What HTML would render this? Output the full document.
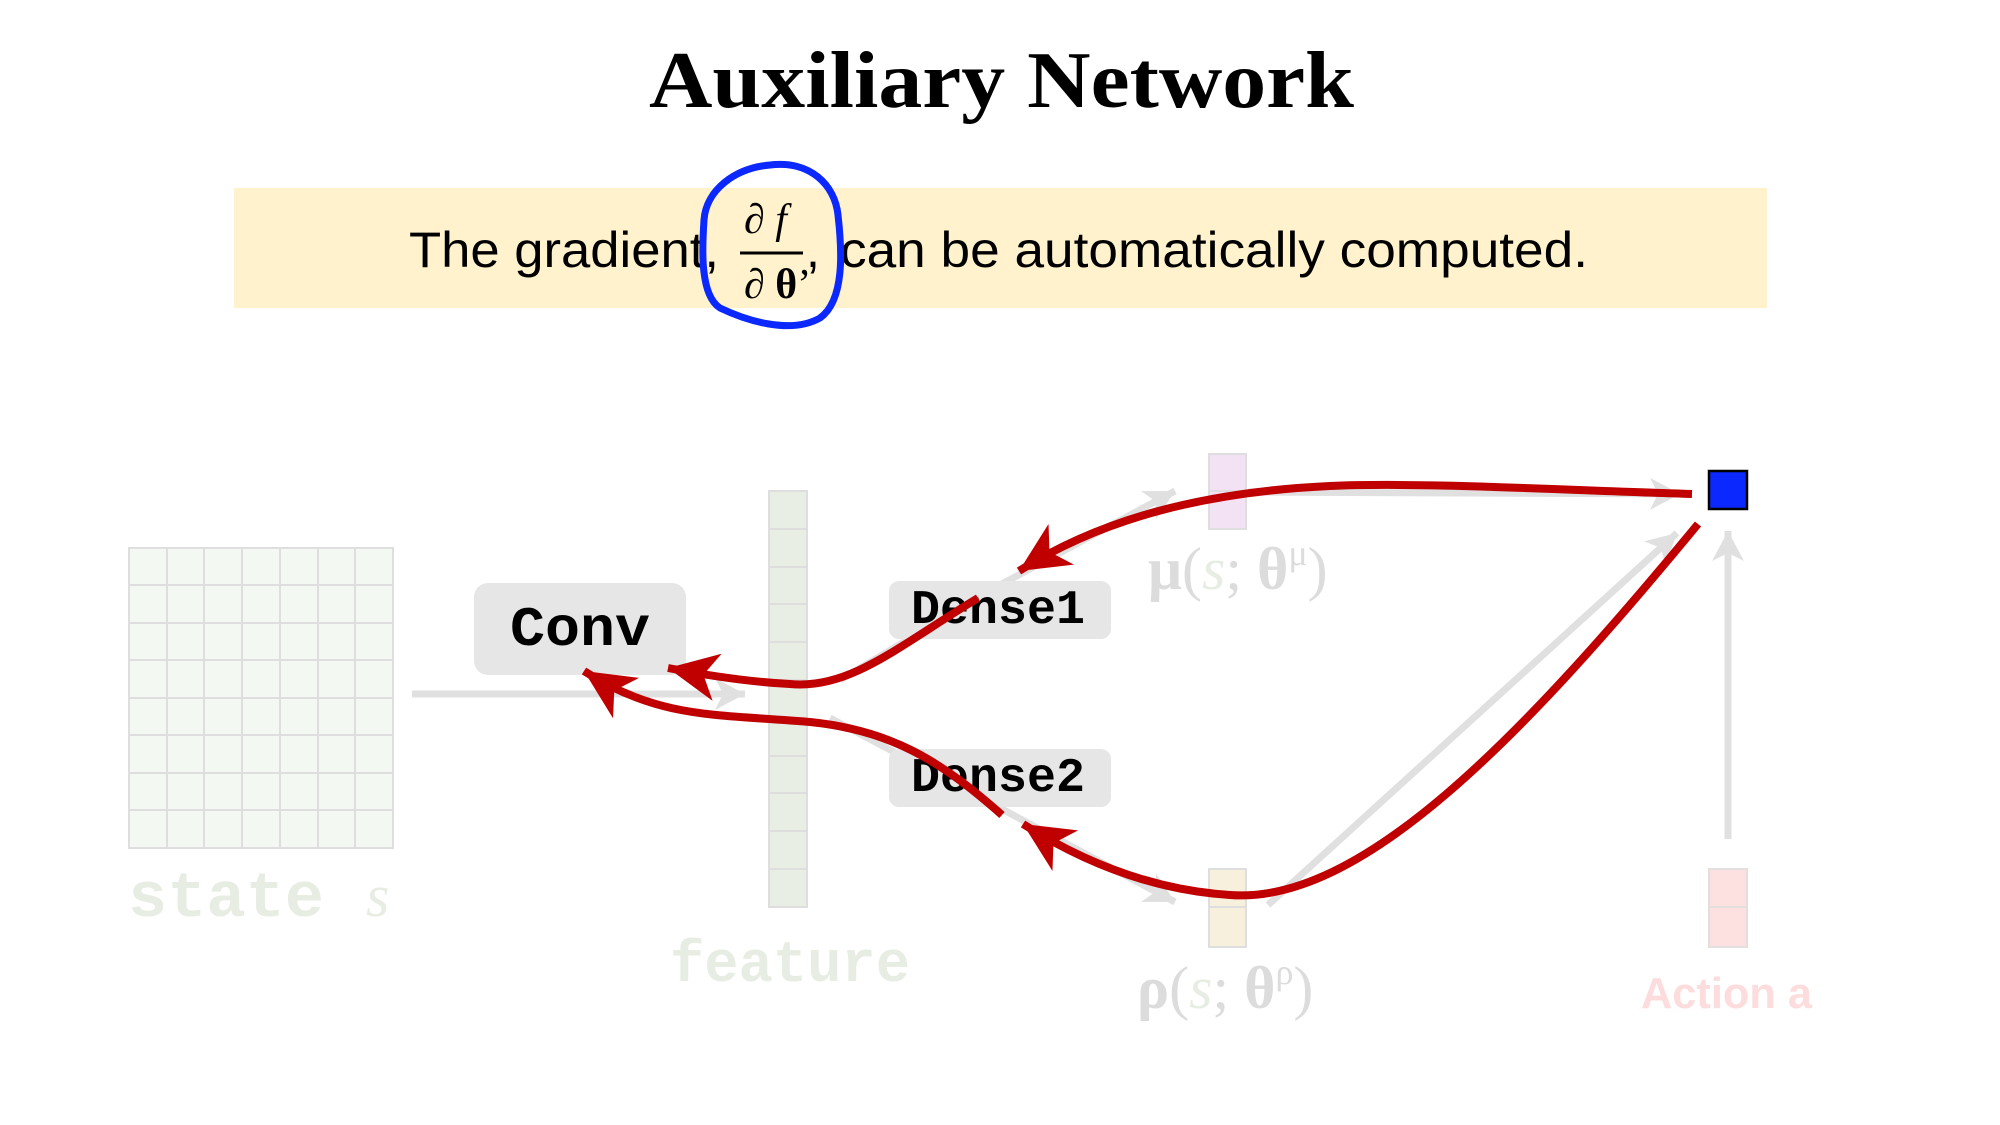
<!DOCTYPE html>
<html><head><meta charset="utf-8"><style>
html,body{margin:0;padding:0;background:#fff;}
svg{display:block}
</style></head><body>
<svg width="2000" height="1125" viewBox="0 0 2000 1125" xmlns="http://www.w3.org/2000/svg">
<defs>
<marker id="ra" markerUnits="userSpaceOnUse" markerWidth="60" markerHeight="60" refX="50" refY="24" orient="auto">
<path d="M0,0 L50,24 L0,48 L14,24 z" fill="#c00000"/>
</marker>
<marker id="ga" markerUnits="userSpaceOnUse" markerWidth="40" markerHeight="40" refX="30" refY="16" orient="auto">
<path d="M0,0 L30,16 L0,32 L8,16 z" fill="#e0e0e0"/>
</marker>
</defs>

<text x="649" y="107" textLength="705" lengthAdjust="spacingAndGlyphs" font-family="Liberation Serif, serif" font-weight="bold" font-size="80">Auxiliary Network</text>

<rect x="234" y="188" width="1533" height="120" fill="#fff2cc"/>
<text x="409" y="267" textLength="310" lengthAdjust="spacingAndGlyphs" font-family="Liberation Sans, sans-serif" font-size="50">The gradient,</text>
<text x="744" y="233" font-family="Liberation Serif, serif" font-style="italic" font-size="42">∂ f</text>
<line x1="740" y1="253" x2="803" y2="253" stroke="#000" stroke-width="3"/>
<text x="744" y="298" font-family="Liberation Serif, serif" font-size="42"><tspan font-style="italic">∂</tspan> <tspan font-weight="bold">θ</tspan>’</text>
<text x="806" y="267" font-family="Liberation Sans, sans-serif" font-size="50">,</text>
<text x="840" y="267" textLength="748" lengthAdjust="spacingAndGlyphs" font-family="Liberation Sans, sans-serif" font-size="50">can be automatically computed.</text>
<path d="M770,165 C810,160 835,185 838,215 C842,250 845,300 820,318 C790,335 745,320 720,308 C700,295 702,250 704,220 C706,190 735,168 770,165 z" fill="none" stroke="#0a28ff" stroke-width="7"/>

<rect x="129" y="548" width="264" height="300" fill="#f4f8f2" stroke="#dedede" stroke-width="2"/>
<g stroke="#dedede" stroke-width="2">
<line x1="167" y1="548" x2="167" y2="848"/><line x1="204" y1="548" x2="204" y2="848"/><line x1="242" y1="548" x2="242" y2="848"/><line x1="280" y1="548" x2="280" y2="848"/><line x1="318" y1="548" x2="318" y2="848"/><line x1="355" y1="548" x2="355" y2="848"/>
<line x1="129" y1="585" x2="393" y2="585"/><line x1="129" y1="623" x2="393" y2="623"/><line x1="129" y1="660" x2="393" y2="660"/><line x1="129" y1="698" x2="393" y2="698"/><line x1="129" y1="735" x2="393" y2="735"/><line x1="129" y1="773" x2="393" y2="773"/><line x1="129" y1="810" x2="393" y2="810"/>
</g>
<text x="128" y="916" textLength="196" lengthAdjust="spacingAndGlyphs" font-family="Liberation Mono, monospace" font-weight="bold" font-size="64" fill="#e8ede3">state</text>
<text x="366" y="916" font-family="Liberation Serif, serif" font-style="italic" font-size="60" fill="#e8ede3">s</text>

<rect x="474" y="583" width="212" height="92" rx="14" fill="#e6e6e6"/>
<text x="510" y="645" textLength="140" lengthAdjust="spacingAndGlyphs" font-family="Liberation Mono, monospace" font-weight="bold" font-size="56">Conv</text>

<g stroke="#e0e0e0" stroke-width="7" fill="none">
<line x1="412" y1="694" x2="745" y2="694" marker-end="url(#ga)"/>
<line x1="840" y1="680" x2="1000" y2="585"/>
<line x1="1000" y1="585" x2="1175" y2="491" marker-end="url(#ga)"/>
<line x1="830" y1="718" x2="1000" y2="808"/>
<line x1="1000" y1="808" x2="1175" y2="902" marker-end="url(#ga)"/>
<line x1="1268" y1="905" x2="1677" y2="533" marker-end="url(#ga)"/>
<line x1="1248" y1="492" x2="1680" y2="494" marker-end="url(#ga)"/>
<line x1="1728" y1="839" x2="1728" y2="531" marker-end="url(#ga)"/>
</g>

<rect x="769" y="491" width="38" height="416" fill="#e8eee4" stroke="#dedede" stroke-width="2"/>
<g stroke="#dedede" stroke-width="2">
<line x1="769" y1="529" x2="807" y2="529"/><line x1="769" y1="567" x2="807" y2="567"/><line x1="769" y1="604" x2="807" y2="604"/><line x1="769" y1="642" x2="807" y2="642"/><line x1="769" y1="680" x2="807" y2="680"/><line x1="769" y1="718" x2="807" y2="718"/><line x1="769" y1="756" x2="807" y2="756"/><line x1="769" y1="793" x2="807" y2="793"/><line x1="769" y1="831" x2="807" y2="831"/><line x1="769" y1="869" x2="807" y2="869"/>
</g>
<text x="670" y="981" textLength="240" lengthAdjust="spacingAndGlyphs" font-family="Liberation Mono, monospace" font-weight="bold" font-size="58" fill="#e8ede3">feature</text>

<rect x="889" y="581" width="222" height="58" rx="10" fill="#e6e6e6"/>
<text x="911" y="623" textLength="174" lengthAdjust="spacingAndGlyphs" font-family="Liberation Mono, monospace" font-weight="bold" font-size="48">Dense1</text>
<rect x="889" y="749" width="222" height="58" rx="10" fill="#e6e6e6"/>
<text x="911" y="791" textLength="174" lengthAdjust="spacingAndGlyphs" font-family="Liberation Mono, monospace" font-weight="bold" font-size="48">Dense2</text>

<rect x="1209" y="454" width="37" height="75" fill="#f3e2f3" stroke="#dedede" stroke-width="2"/>
<line x1="1209" y1="491" x2="1246" y2="491" stroke="#dedede" stroke-width="2"/>
<text x="1148" y="589" font-family="Liberation Serif, serif" font-size="60" fill="#dcdcdc"><tspan font-weight="bold">μ</tspan>(<tspan font-style="italic" fill="#e8ede3">s</tspan>; <tspan font-weight="bold">θ</tspan><tspan font-size="36" dy="-24">μ</tspan><tspan dy="24">)</tspan></text>

<rect x="1209" y="869" width="37" height="78" fill="#f7f0dd" stroke="#dedede" stroke-width="2"/>
<line x1="1209" y1="907" x2="1246" y2="907" stroke="#dedede" stroke-width="2"/>
<text x="1137" y="1008" font-family="Liberation Serif, serif" font-size="60" fill="#dcdcdc"><tspan font-weight="bold">ρ</tspan>(<tspan font-style="italic" fill="#e8ede3">s</tspan>; <tspan font-weight="bold">θ</tspan><tspan font-size="36" dy="-24">ρ</tspan><tspan dy="24">)</tspan></text>

<rect x="1709" y="869" width="38" height="78" fill="#fde0e0" stroke="#e4dede" stroke-width="2"/>
<line x1="1709" y1="907" x2="1747" y2="907" stroke="#e4dede" stroke-width="2"/>
<text x="1641" y="1008" textLength="171" lengthAdjust="spacingAndGlyphs" font-family="Liberation Sans, sans-serif" font-weight="bold" font-size="44" fill="#fcdcdc">Action a</text>

<rect x="1709" y="471" width="38" height="38" fill="#0a28ff" stroke="#000" stroke-width="2.5"/>

<g stroke="#c00000" stroke-width="8" fill="none">
<path d="M1692,494 C1560,490 1420,482 1330,486 C1200,492 1100,520 1019,571" marker-end="url(#ra)"/>
<path d="M978,598 C900,645 850,690 790,684 C750,682 710,676 668,668" marker-end="url(#ra)"/>
<path d="M1002,815 C940,760 890,730 810,722 C720,714 660,720 584,671" marker-end="url(#ra)"/>
<path d="M1698,524 C1520,740 1360,905 1230,895 C1150,890 1080,860 1023,824" marker-end="url(#ra)"/>
</g>
</svg>
</body></html>
